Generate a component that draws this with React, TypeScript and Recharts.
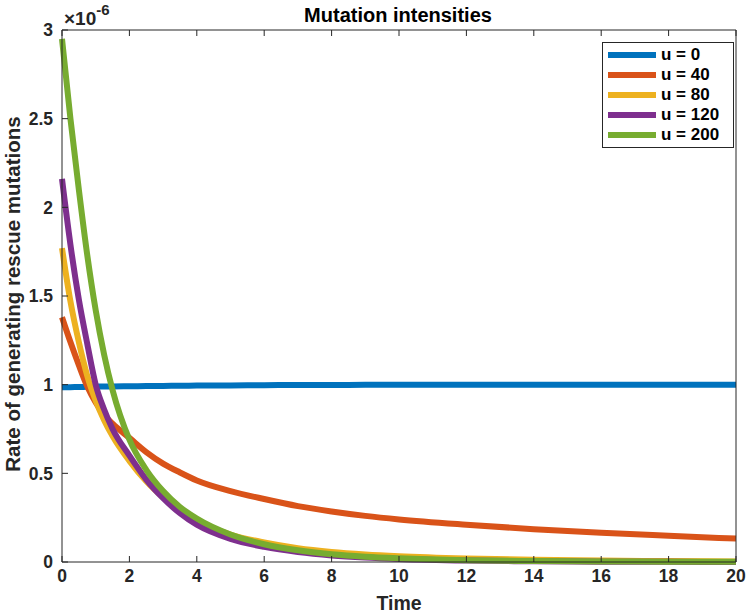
import React from 'react'
import { LineChart, Line, XAxis, YAxis } from 'recharts'

// time grid and series values (units of 1e-6)
const times = [0, 0.25, 0.5, 0.75, 1, 1.25, 1.5, 2, 2.5, 3, 3.5, 4, 5, 6, 7, 8, 9, 10, 12, 14, 16, 18, 20]
const u0 = [0.985, 0.986, 0.987, 0.988, 0.989, 0.99, 0.99, 0.991, 0.992, 0.993, 0.994, 0.995, 0.996, 0.997, 0.998, 0.998, 0.999, 0.999, 1, 1, 1, 1, 1]
const u40 = [1.38, 1.24, 1.11, 0.99, 0.9, 0.83, 0.78, 0.7, 0.62, 0.555, 0.505, 0.46, 0.4, 0.355, 0.315, 0.285, 0.26, 0.24, 0.21, 0.185, 0.165, 0.148, 0.132]
const u80 = [1.77, 1.47, 1.24, 1.05, 0.91, 0.8, 0.71, 0.57, 0.455, 0.365, 0.29, 0.23, 0.155, 0.11, 0.078, 0.057, 0.043, 0.033, 0.02, 0.012, 0.008, 0.005, 0.003]
const u120 = [2.16, 1.79, 1.48, 1.23, 1.0, 0.86, 0.75, 0.6, 0.465, 0.36, 0.275, 0.21, 0.13, 0.085, 0.056, 0.037, 0.025, 0.017, 0.008, 0.004, 0.002, 0.001, 0.0005]
const u200 = [2.95, 2.5, 2.1, 1.73, 1.42, 1.17, 0.97, 0.69, 0.52, 0.4, 0.31, 0.245, 0.155, 0.1, 0.066, 0.044, 0.03, 0.021, 0.01, 0.005, 0.003, 0.002, 0.001]

const seriesNames = ['u = 0', 'u = 40', 'u = 80', 'u = 120', 'u = 200']
const seriesValues = [u0, u40, u80, u120, u200]
const colors = ['#0072BD', '#D95319', '#EDB120', '#7E2F8E', '#77AC30']

const xTicks = [0, 2, 4, 6, 8, 10, 12, 14, 16, 18, 20]
const yTicks = [0, 0.5, 1, 1.5, 2, 2.5, 3]

const data = times.map((t, i) => {
  const row: Record<string, number> = { t }
  seriesValues.forEach((vals, s) => {
    row['s' + s] = vals[i]
  })
  return row
})

const font = "'Liberation Sans', Arial, sans-serif"
const axisColor = '#262626'
const tickStyle = { fill: axisColor, fontSize: 17.5, fontWeight: 'bold', fontFamily: font }
// tick marks only, no label (for the top / right box edges)
const noLabel = () => <g />

export default function App() {
  return (
    <div style={{ position: 'absolute', left: 0, top: 0, width: 750, height: 615, background: '#fff' }}>
      <LineChart
        width={750}
        height={615}
        data={data}
        margin={{ top: 29, right: 13, bottom: 13, left: 0 }}
      >
        <XAxis
          dataKey="t"
          type="number"
          domain={[0, 20]}
          ticks={xTicks}
          height={40}
          stroke={axisColor}
          tickSize={-6}
          tickMargin={14}
          tick={tickStyle}
        />
        <XAxis
          xAxisId="top"
          orientation="top"
          dataKey="t"
          type="number"
          domain={[0, 20]}
          ticks={xTicks}
          height={1}
          stroke={axisColor}
          tickSize={-6}
          tick={noLabel}
        />
        <YAxis
          type="number"
          domain={[0, 3]}
          ticks={yTicks}
          width={62}
          stroke={axisColor}
          tickSize={-6}
          tickMargin={15}
          tick={tickStyle}
        />
        <YAxis
          yAxisId="right"
          orientation="right"
          type="number"
          domain={[0, 3]}
          ticks={yTicks}
          width={1}
          stroke={axisColor}
          tickSize={-6}
          tick={noLabel}
        />
        {seriesNames.map((name, s) => (
          <Line
            key={name}
            name={name}
            dataKey={'s' + s}
            type="monotone"
            stroke={colors[s]}
            strokeWidth={6}
            dot={false}
            isAnimationActive={false}
          />
        ))}
      </LineChart>

      <svg width={750} height={615} style={{ position: 'absolute', left: 0, top: 0, pointerEvents: 'none' }}>
        <text x={398} y={22} textAnchor="middle" fontFamily={font} fontWeight="bold" fontSize={20} fill="#000">
          Mutation intensities
        </text>
        <text x={64} y={25} fontFamily={font} fontWeight="bold" fontSize={19} fill={axisColor}>
          ×10
          <tspan dy={-10} fontSize={15}>-6</tspan>
        </text>
        <text x={399} y={610} textAnchor="middle" fontFamily={font} fontWeight="bold" fontSize={19.5} fill={axisColor}>
          Time
        </text>
        <text
          x={0}
          y={0}
          transform="translate(20,294) rotate(-90)"
          textAnchor="middle"
          fontFamily={font}
          fontWeight="bold"
          fontSize={20.5}
          fill={axisColor}
        >
          Rate of generating rescue mutations
        </text>
      </svg>

      <div
        style={{
          position: 'absolute',
          left: 602,
          top: 42,
          width: 132,
          height: 106,
          border: '1px solid #262626',
          background: '#fff',
          fontFamily: font,
          fontWeight: 'bold',
          fontSize: 17,
          color: '#000',
          boxSizing: 'border-box',
        }}
      >
        {seriesNames.map((name, s) => (
          <div key={name} style={{ position: 'absolute', left: 5, top: 2 + s * 20, height: 20, display: 'flex', alignItems: 'center' }}>
            <span style={{ display: 'inline-block', width: 48, height: 6, background: colors[s], marginRight: 5 }} />
            <span>{name}</span>
          </div>
        ))}
      </div>
    </div>
  )
}
